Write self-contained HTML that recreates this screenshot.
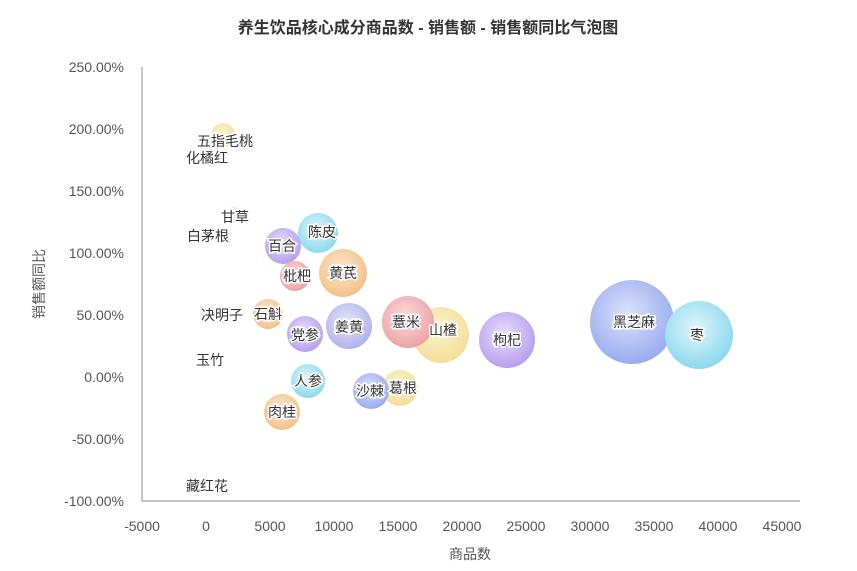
<!DOCTYPE html>
<html><head><meta charset="utf-8"><style>
body{margin:0;background:#fff;}
svg{display:block;font-family:"Liberation Sans","Noto Sans CJK SC",sans-serif;}
.t{font-size:14px;fill:#333;text-anchor:middle;dominant-baseline:central;paint-order:stroke;stroke:#fff;stroke-width:3px;}
.ax{font-size:14px;fill:#555;}
</style></head><body>
<svg width="857" height="571" viewBox="0 0 857 571">
<defs>
<radialGradient id="y" cx="45%" cy="40%" r="60%"><stop offset="0" stop-color="#fbf1c8"/><stop offset="1" stop-color="#f2d77f"/></radialGradient>
<radialGradient id="c" cx="45%" cy="40%" r="60%"><stop offset="0" stop-color="#d9f4fa"/><stop offset="1" stop-color="#6fd0ea"/></radialGradient>
<radialGradient id="p" cx="45%" cy="40%" r="60%"><stop offset="0" stop-color="#e4d8fb"/><stop offset="1" stop-color="#a687ea"/></radialGradient>
<radialGradient id="r" cx="45%" cy="40%" r="60%"><stop offset="0" stop-color="#f8d6d6"/><stop offset="1" stop-color="#ea8b8f"/></radialGradient>
<radialGradient id="o" cx="45%" cy="40%" r="60%"><stop offset="0" stop-color="#fbe3c8"/><stop offset="1" stop-color="#f0b26a"/></radialGradient>
<radialGradient id="b" cx="45%" cy="40%" r="60%"><stop offset="0" stop-color="#d3dcfb"/><stop offset="1" stop-color="#7f98ec"/></radialGradient>
<radialGradient id="bp" cx="45%" cy="40%" r="60%"><stop offset="0" stop-color="#e6e0f8"/><stop offset="1" stop-color="#9aa0e6"/></radialGradient>
<radialGradient id="g" cx="45%" cy="40%" r="60%"><stop offset="0" stop-color="#f3f3f3"/><stop offset="1" stop-color="#d9d9d9"/></radialGradient>
</defs>
<text x="428" y="33" text-anchor="middle" font-size="16" font-weight="bold" fill="#333">养生饮品核心成分商品数 - 销售额 - 销售额同比气泡图</text>
<line x1="142" y1="67" x2="142" y2="501" stroke="#888"/>
<line x1="142" y1="501" x2="800" y2="501" stroke="#888"/>
<g class="ax" text-anchor="end">
<text x="124" y="72">250.00%</text><text x="124" y="134">200.00%</text><text x="124" y="196">150.00%</text><text x="124" y="258">100.00%</text><text x="124" y="320">50.00%</text><text x="124" y="382">0.00%</text><text x="124" y="444">-50.00%</text><text x="124" y="506">-100.00%</text>
</g>
<g class="ax" text-anchor="middle">
<text x="142" y="531">-5000</text><text x="206" y="531">0</text><text x="270" y="531">5000</text><text x="334" y="531">10000</text><text x="398" y="531">15000</text><text x="462" y="531">20000</text><text x="526" y="531">25000</text><text x="590" y="531">30000</text><text x="654" y="531">35000</text><text x="718" y="531">40000</text><text x="782" y="531">45000</text>
</g>
<text class="ax" x="470" y="559" text-anchor="middle">商品数</text>
<text class="ax" transform="translate(44,284) rotate(-90)" text-anchor="middle">销售额同比</text>
<g opacity="0.8">
<circle cx="223" cy="135" r="12" fill="url(#y)"/>
<circle cx="212" cy="158" r="6" fill="url(#g)"/>
<circle cx="234" cy="215" r="8" fill="url(#g)"/>
<circle cx="222" cy="316" r="7" fill="url(#g)"/>
<circle cx="318" cy="233" r="20" fill="url(#c)"/>
<circle cx="283" cy="246" r="18" fill="url(#p)"/>
<circle cx="295" cy="276" r="15" fill="url(#r)"/>
<circle cx="343" cy="273" r="24" fill="url(#o)"/>
<circle cx="268" cy="314" r="15" fill="url(#o)"/>
<circle cx="305" cy="334" r="18" fill="url(#p)"/>
<circle cx="349" cy="326" r="23" fill="url(#bp)"/>
<circle cx="441" cy="335" r="28" fill="url(#y)"/>
<circle cx="408" cy="322" r="26" fill="url(#r)"/>
<circle cx="507" cy="340" r="28" fill="url(#p)"/>
<circle cx="632" cy="322" r="42" fill="url(#b)"/>
<circle cx="699" cy="335" r="34" fill="url(#c)"/>
<circle cx="308" cy="381" r="17" fill="url(#c)"/>
<circle cx="400" cy="388" r="18" fill="url(#y)"/>
<circle cx="371" cy="391" r="18" fill="url(#b)"/>
<circle cx="282" cy="412" r="18" fill="url(#o)"/>
</g>
<g class="t">
<text x="225" y="141">五指毛桃</text><text x="207" y="158">化橘红</text>
<text x="235" y="217">甘草</text><text x="208" y="236">白茅根</text>
<text x="322" y="232">陈皮</text><text x="282" y="246">百合</text>
<text x="297" y="276">枇杷</text><text x="343" y="273">黄芪</text>
<text x="222" y="315">决明子</text><text x="268" y="314">石斛</text>
<text x="305" y="335">党参</text><text x="349" y="327">姜黄</text>
<text x="406" y="322">薏米</text><text x="443" y="330">山楂</text>
<text x="507" y="340">枸杞</text><text x="634" y="322">黑芝麻</text><text x="697" y="335">枣</text>
<text x="210" y="360">玉竹</text><text x="308" y="381">人参</text>
<text x="370" y="391">沙棘</text><text x="403" y="388">葛根</text>
<text x="282" y="412">肉桂</text><text x="207" y="486">藏红花</text>
</g>
</svg>
</body></html>
